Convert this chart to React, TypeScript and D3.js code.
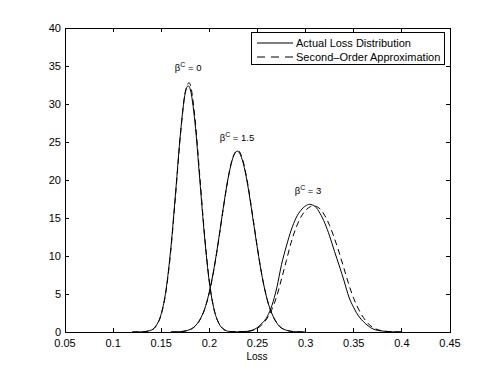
import * as d3 from 'd3'

// loss grid points and densities
const lossA0 = [0.12, 0.13, 0.14, 0.145, 0.15, 0.155, 0.16, 0.165, 0.17, 0.175, 0.178, 0.18, 0.185, 0.19, 0.195, 0.2, 0.205, 0.21, 0.215, 0.22, 0.23, 0.24];
const densA0 = [0, 0.02, 0.27, 0.9, 2.4, 5.6, 11.1, 18.5, 26.2, 31.5, 32.4, 32.0, 27.6, 20.1, 12.5, 6.5, 2.9, 1.1, 0.35, 0.09, 0.01, 0];
const lossB0 = [0.12, 0.13, 0.14, 0.145, 0.15, 0.155, 0.16, 0.165, 0.17, 0.175, 0.179, 0.18, 0.185, 0.19, 0.195, 0.2, 0.205, 0.21, 0.215, 0.22, 0.23, 0.24];
const densB0 = [0, 0.02, 0.26, 0.85, 2.3, 5.4, 10.8, 18.2, 26.0, 31.6, 32.8, 32.6, 28.2, 20.6, 12.8, 6.6, 2.9, 1.1, 0.35, 0.09, 0.01, 0];

const lossA15 = [0.16, 0.17, 0.18, 0.185, 0.19, 0.195, 0.2, 0.205, 0.21, 0.215, 0.22, 0.225, 0.229, 0.235, 0.24, 0.245, 0.25, 0.255, 0.26, 0.265, 0.27, 0.28, 0.29, 0.3];
const densA15 = [0, 0.05, 0.33, 0.76, 1.6, 3.0, 5.3, 8.5, 12.5, 16.8, 20.6, 23.1, 23.8, 22.3, 19.2, 15.1, 10.9, 7.15, 4.3, 2.4, 1.2, 0.23, 0.03, 0];
const lossB15 = [0.16, 0.17, 0.18, 0.185, 0.19, 0.195, 0.2, 0.205, 0.21, 0.215, 0.22, 0.225, 0.2295, 0.235, 0.24, 0.245, 0.25, 0.255, 0.26, 0.265, 0.27, 0.28, 0.29, 0.3];
const densB15 = [0, 0.05, 0.32, 0.74, 1.55, 2.95, 5.2, 8.4, 12.4, 16.7, 20.6, 23.2, 23.9, 22.5, 19.4, 15.3, 11.0, 7.2, 4.3, 2.4, 1.2, 0.23, 0.03, 0];

const lossA3 = [0.23, 0.24, 0.25, 0.255, 0.26, 0.265, 0.27, 0.275, 0.28, 0.285, 0.29, 0.295, 0.3, 0.304, 0.31, 0.315, 0.32, 0.325, 0.33, 0.335, 0.34, 0.345, 0.35, 0.355, 0.36, 0.365, 0.37, 0.38, 0.39, 0.4];
const densA3 = [0, 0.1, 0.6, 1.2, 2.0, 3.5, 5.8, 8.9, 11.3, 13.4, 15.0, 16.0, 16.6, 16.8, 16.5, 15.6, 14.3, 12.6, 10.6, 8.7, 6.7, 4.6, 3.2, 2.1, 1.36, 0.8, 0.4, 0.12, 0.03, 0];
const lossB3 = [0.23, 0.24, 0.25, 0.255, 0.26, 0.265, 0.27, 0.275, 0.28, 0.285, 0.29, 0.295, 0.3, 0.305, 0.308, 0.315, 0.32, 0.325, 0.33, 0.335, 0.34, 0.345, 0.35, 0.355, 0.36, 0.365, 0.37, 0.38, 0.39, 0.4];
const densB3 = [0, 0.08, 0.5, 1.0, 1.8, 3.0, 4.7, 7.0, 9.4, 11.8, 13.7, 15.1, 16.0, 16.5, 16.6, 16.2, 15.3, 14.0, 12.3, 10.4, 8.3, 6.2, 4.4, 3.0, 1.9, 1.1, 0.6, 0.15, 0.03, 0];

const xTicks = [0.05, 0.1, 0.15, 0.2, 0.25, 0.3, 0.35, 0.4, 0.45];
const yTicks = [0, 5, 10, 15, 20, 25, 30, 35, 40];

const labels = [
  { beta: '0', x: 0.178, y: 34.3 },
  { beta: '1.5', x: 0.2287, y: 25.1 },
  { beta: '3', x: 0.3025, y: 18.1 },
];

const legendItems = ['Actual Loss Distribution', 'Second\u2013Order Approximation'];

const W = 498, H = 375;
const margin = { left: 65, top: 28, right: 48, bottom: 43 };

export default function App() {
  const x = d3.scaleLinear().domain([0.05, 0.45]).range([margin.left, W - margin.right]);
  const y = d3.scaleLinear().domain([0, 40]).range([H - margin.bottom, margin.top]);
  const line = d3.line<[number, number]>()
    .x(d => x(d[0]))
    .y(d => y(d[1]))
    .curve(d3.curveMonotoneX);

  const zip = (a: number[], b: number[]) => a.map((v, i) => [v, b[i]] as [number, number]);
  const solid = [zip(lossA0, densA0), zip(lossA15, densA15), zip(lossA3, densA3)];
  const dashed = [zip(lossB0, densB0), zip(lossB15, densB15), zip(lossB3, densB3)];

  const x0 = x(0.05), x1 = x(0.45), y0 = y(0), y1 = y(40);
  const font = 'Liberation Sans, Arial, Helvetica, sans-serif';
  const tick = 4;

  return (
    <svg width={W} height={H} style={{ position: 'absolute', left: 0, top: 0, background: '#fff' }} fontFamily={font}>
      {solid.map((d, i) => (
        <path key={'s' + i} d={line(d) ?? ''} fill='none' stroke='#000' strokeWidth={1} />
      ))}
      {dashed.map((d, i) => (
        <path key={'d' + i} d={line(d) ?? ''} fill='none' stroke='#000' strokeWidth={1} strokeDasharray='6,4' />
      ))}

      <rect x={x0} y={y1} width={x1 - x0} height={y0 - y1} fill='none' stroke='#000' strokeWidth={1} shapeRendering='crispEdges' />
      {xTicks.map(t => (
        <g key={'x' + t}>
          <line x1={x(t)} x2={x(t)} y1={y0} y2={y0 - tick} stroke='#000' shapeRendering='crispEdges' />
          <line x1={x(t)} x2={x(t)} y1={y1} y2={y1 + tick} stroke='#000' shapeRendering='crispEdges' />
          <text x={x(t)} y={y0 + 15} fontSize={11} textAnchor='middle'>{String(t)}</text>
        </g>
      ))}
      {yTicks.map(t => (
        <g key={'y' + t}>
          <line x1={x0} x2={x0 + tick} y1={y(t)} y2={y(t)} stroke='#000' shapeRendering='crispEdges' />
          <line x1={x1} x2={x1 - tick} y1={y(t)} y2={y(t)} stroke='#000' shapeRendering='crispEdges' />
          <text x={x0 - 4} y={y(t) + 4} fontSize={11} textAnchor='end'>{String(t)}</text>
        </g>
      ))}
      <text x={257} y={H - 15} fontSize={10} textAnchor='middle'>Loss</text>

      {labels.map(l => (
        <text key={l.beta} x={x(l.x)} y={y(l.y)} fontSize={9.5} textAnchor='middle'>
          β<tspan dy={-4} fontSize={7}>C</tspan><tspan dy={4}> = {l.beta}</tspan>
        </text>
      ))}

      <g>
        <rect x={251.5} y={32.5} width={193} height={32} fill='#fff' stroke='#000' strokeWidth={1} />
        {legendItems.map((name, i) => (
          <g key={name}>
            <line x1={257} x2={293} y1={43 + i * 14} y2={43 + i * 14} stroke='#000' strokeDasharray={i ? '8,6' : undefined} />
            <text x={296} y={47 + i * 14} fontSize={11}>{name}</text>
          </g>
        ))}
      </g>
    </svg>
  );
}
